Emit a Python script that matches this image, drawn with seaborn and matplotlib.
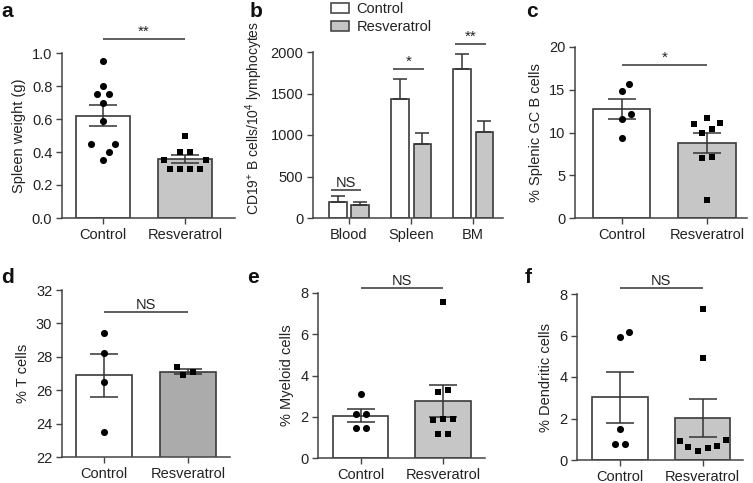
import numpy as np
import pandas as pd
import matplotlib
matplotlib.use("Agg")
import matplotlib.pyplot as plt
import seaborn as sns
from matplotlib.patches import Patch

sns.set_style("ticks")
plt.rcParams['font.family'] = ['Liberation Sans', 'DejaVu Sans']
plt.rcParams['mathtext.fontset'] = 'custom'
plt.rcParams['mathtext.rm'] = 'Liberation Sans'
plt.rcParams['mathtext.it'] = 'Liberation Sans:italic'
plt.rcParams['mathtext.bf'] = 'Liberation Sans:bold'

# ---------------- data ----------------
groups = ["Control", "Resveratrol"]

# a: spleen weight (g)
a_ctrl = [0.95, 0.80, 0.75, 0.75, 0.70, 0.59, 0.45, 0.45, 0.40, 0.35]
a_resv = [0.50, 0.40, 0.40, 0.35, 0.35, 0.30, 0.30, 0.30, 0.30]
a_mean = [0.62, 0.355]
a_sem = [0.065, 0.024]

# b: CD19+ B cells / 10^4 lymphocytes
regions = ["Blood", "Spleen", "BM"]
b_ctrl_mean = [193, 1438, 1795]
b_ctrl_sem = [68, 240, 180]
b_resv_mean = [161, 896, 1036]
b_resv_sem = [32, 124, 137]

# c: % splenic GC B cells
c_ctrl = [15.7, 14.9, 12.2, 11.6, 9.4]
c_resv = [11.0, 11.7, 11.15, 10.0, 10.4, 7.1, 7.0, 2.15]
c_mean = [12.76, 8.82]
c_sem = [1.15, 1.17]

# d: % T cells
d_ctrl = [29.4, 28.2, 26.5, 23.5]
d_resv = [27.4, 26.9, 27.1]
d_mean = [26.9, 27.1]
d_sem = [1.28, 0.15]

# e: % myeloid cells
e_ctrl = [3.12, 2.15, 2.15, 1.47, 1.47]
e_resv = [7.56, 3.18, 3.31, 1.89, 1.83, 1.91, 1.18, 1.18]
e_mean = [2.05, 2.75]
e_sem = [0.31, 0.78]

# f: % dendritic cells
f_ctrl = [5.91, 6.15, 1.48, 0.75, 0.77]
f_resv = [7.26, 4.93, 0.92, 0.64, 0.96, 0.45, 0.56, 0.67]
f_mean = [3.02, 2.04]
f_sem = [1.22, 0.92]

# significance annotations
sig_text = {"a": "**", "c": "*", "d": "NS", "e": "NS", "f": "NS"}
sig_y = {"a": 1.085, "c": 17.9, "d": 30.68, "e": 8.24, "f": 8.29}
b_sig_text = ["NS", "*", "**"]
b_sig_y = [337, 1795, 2097]

# ---------------- style ----------------
W, H = 753, 483
TXT = "#222222"
SPINE = "#444444"
EDGE = "#3a3a3a"
GRAY = "#c6c6c6"
GRAY_D = "#ababab"
FS = 10.5

fig = plt.figure(figsize=(W / 100, H / 100), dpi=100)


def make_ax(l, r, t, b):
    ax = fig.add_axes([l / W, 1 - b / H, (r - l) / W, (b - t) / H])
    for s in ["top", "right"]:
        ax.spines[s].set_visible(False)
    for s in ["left", "bottom"]:
        ax.spines[s].set_color(SPINE)
        ax.spines[s].set_linewidth(1.1)
    ax.tick_params(direction="out", length=4, width=1.0, color=SPINE,
                   labelsize=FS, labelcolor=TXT, pad=3)
    return ax


def swarm_x(ax, values, center, d=10.0, tol=3.5):
    """Prism-like scatter layout: rows of near-equal values spread symmetrically,
    avoiding overlap (in pixels) with already placed points."""
    T = ax.transData
    ypx = [T.transform((center, v))[1] for v in values]
    xscale = T.transform((1, 0))[0] - T.transform((0, 0))[0]
    order = sorted(range(len(values)), key=lambda i: ypx[i])
    rows = []
    for i in order:
        if rows and ypx[i] - ypx[rows[-1][0]] <= tol:
            rows[-1].append(i)
        else:
            rows.append([i])
    placed = []
    xoff = [0.0] * len(values)

    def ok(x, y):
        return all((x - px) ** 2 + (y - py) ** 2 >= d * d - 1e-6 for px, py in placed)

    for row in rows:
        n = len(row)
        if n == 1:
            i = row[0]
            for k in range(0, 400):
                step = 0.5 * ((k + 1) // 2)
                x = step if k % 2 == 1 else -step
                if ok(x, ypx[i]):
                    break
            xoff[i] = x
            placed.append((x, ypx[i]))
        else:
            g = d
            while True:
                xs = [(k - (n - 1) / 2) * g for k in range(n)]
                if all(ok(x, ypx[i]) for x, i in zip(xs, row)):
                    break
                g += 0.5
            for x, i in zip(xs, row):
                xoff[i] = x
                placed.append((x, ypx[i]))
    return [center + x / xscale for x in xoff]


def sig(ax, x0, x1, y, text):
    ax.plot([x0, x1], [y, y], color="#333333", lw=1.1, clip_on=False,
            solid_capstyle="butt")
    ax.text((x0 + x1) / 2, y, text, ha="center", va="bottom",
            fontsize=FS if text == "NS" else 11, color=TXT, clip_on=False)


def dot_panel(ax, ctrl, resv, mean, sem, gray, xlim, ylim, yticks, fmt,
              ylabel, key):
    sns.barplot(x=groups, y=mean, hue=groups, order=groups,
                palette={"Control": "white", "Resveratrol": gray},
                width=0.67, edgecolor=EDGE, linewidth=1.2, legend=False,
                errorbar=None, ax=ax, zorder=1)
    ax.set_xlim(*xlim)
    ax.set_ylim(*ylim)
    ax.errorbar([0, 1], mean, yerr=sem, fmt="none", ecolor="#333333",
                elinewidth=1.1, capsize=10, capthick=1.1, zorder=3)
    xc = swarm_x(ax, ctrl, 0)
    xr = swarm_x(ax, resv, 1)
    sns.scatterplot(x=xc, y=ctrl, marker="o", color="black", s=26,
                    linewidth=0, ax=ax, zorder=4, legend=False)
    sns.scatterplot(x=xr, y=resv, marker="s", color="black", s=24,
                    linewidth=0, ax=ax, zorder=4, legend=False)
    ax.set_xlim(*xlim)
    ax.set_ylim(*ylim)
    ax.set_xticks([0, 1])
    ax.set_xticklabels(groups)
    ax.set_yticks(yticks)
    ax.set_yticklabels([fmt.format(v) for v in yticks])
    ax.set_ylabel(ylabel, fontsize=FS, color=TXT)
    ax.set_xlabel("")
    sig(ax, 0, 1, sig_y[key], sig_text[key])


# panel a
ax_a = make_ax(62, 235, 53, 218)
dot_panel(ax_a, a_ctrl, a_resv, a_mean, a_sem, GRAY, (-0.5, 1.61), (0, 1.0),
          [0, 0.2, 0.4, 0.6, 0.8, 1.0], "{:.1f}", "Spleen weight (g)", "a")

# panel b
ax_b = make_ax(313, 503, 52, 218)
df_b = pd.DataFrame({
    "region": regions * 2,
    "group": ["Control"] * 3 + ["Resveratrol"] * 3,
    "mean": b_ctrl_mean + b_resv_mean,
})
sns.barplot(data=df_b, x="region", y="mean", hue="group", order=regions,
            hue_order=groups, palette={"Control": "white", "Resveratrol": GRAY},
            width=0.72, gap=0.22, edgecolor=EDGE, linewidth=1.2, legend=False,
            errorbar=None, ax=ax_b, zorder=1)
centers = sorted(p.get_x() + p.get_width() / 2 for p in ax_b.patches
                 if p.get_height() > 0)
ctrl_x = centers[0::2]
resv_x = centers[1::2]
ax_b.errorbar(ctrl_x, b_ctrl_mean, yerr=[[0] * 3, b_ctrl_sem], fmt="none",
              ecolor="#333333", elinewidth=1.1, capsize=5, capthick=1.1, zorder=3)
ax_b.errorbar(resv_x, b_resv_mean, yerr=[[0] * 3, b_resv_sem], fmt="none",
              ecolor="#333333", elinewidth=1.1, capsize=5, capthick=1.1, zorder=3)
ax_b.set_xlim(-0.58, 2.48)
ax_b.set_ylim(0, 2000)
ax_b.set_yticks([0, 500, 1000, 1500, 2000])
ax_b.set_ylabel(r"CD19$^{+}$ B cells/10$^{4}$ lymphocytes", fontsize=10, color=TXT)
ax_b.yaxis.set_label_coords(-0.255, 0.6)
ax_b.set_xlabel("")
for i, (t, y) in enumerate(zip(b_sig_text, b_sig_y)):
    sig(ax_b, i - 0.29, i + 0.2, y, t)
leg = ax_b.legend(handles=[Patch(facecolor="white", edgecolor=EDGE, lw=1.1, label="Control"),
                           Patch(facecolor=GRAY, edgecolor=EDGE, lw=1.1, label="Resveratrol")],
                  loc="upper left", bbox_to_anchor=(331 / W, 1 - 2 / H),
                  bbox_transform=fig.transFigure, frameon=False, fontsize=FS,
                  handlelength=1.25, handleheight=0.65, handletextpad=0.5,
                  labelspacing=0.3, borderpad=0, borderaxespad=0)
for t in leg.get_texts():
    t.set_color(TXT)

# panel c
ax_c = make_ax(575, 747, 47, 218)
dot_panel(ax_c, c_ctrl, c_resv, c_mean, c_sem, GRAY, (-0.55, 1.47), (0, 20),
          [0, 5, 10, 15, 20], "{:d}", "% Splenic GC B cells", "c")

# panel d
ax_d = make_ax(62, 230, 290, 457)
dot_panel(ax_d, d_ctrl, d_resv, d_mean, d_sem, GRAY_D, (-0.5, 1.5), (22, 32),
          [22, 24, 26, 28, 30, 32], "{:d}", "% T cells", "d")

# panel e
ax_e = make_ax(318, 485, 293, 458)
dot_panel(ax_e, e_ctrl, e_resv, e_mean, e_sem, GRAY, (-0.52, 1.51), (0, 8),
          [0, 2, 4, 6, 8], "{:d}", "% Myeloid cells", "e")

# panel f
ax_f = make_ax(577, 743, 294, 460)
dot_panel(ax_f, f_ctrl, f_resv, f_mean, f_sem, GRAY, (-0.52, 1.49), (0, 8),
          [0, 2, 4, 6, 8], "{:d}", "% Dendritic cells", "f")
ax_f.spines["bottom"].set_linestyle((0, (1, 1)))

# panel letters
for lab, x, y in [("a", 1, 17), ("b", 250, 17), ("c", 526, 17),
                  ("d", 1, 283), ("e", 247, 283), ("f", 525, 283)]:
    fig.text(x / W, 1 - y / H, lab, fontsize=15, fontweight="bold",
             color="#111111", va="baseline", ha="left")

fig.savefig("out.png", dpi=100)
